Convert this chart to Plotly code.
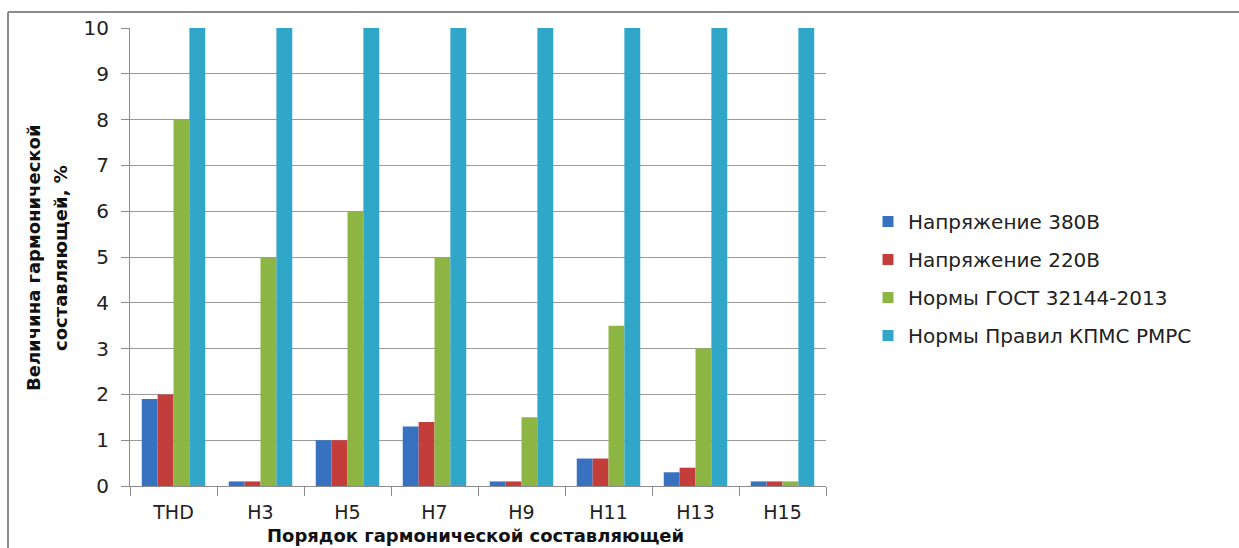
import plotly.graph_objects as go

categories = ["THD", "H3", "H5", "H7", "H9", "H11", "H13", "H15"]
v380 = [1.9, 0.1, 1.0, 1.3, 0.1, 0.6, 0.3, 0.1]
v220 = [2.0, 0.1, 1.0, 1.4, 0.1, 0.6, 0.4, 0.1]
gost = [8, 5, 6, 5, 1.5, 3.5, 3, 0.1]
kpms = [10, 10, 10, 10, 10, 10, 10, 10]
series_names = ["Напряжение 380В", "Напряжение 220В", "Нормы ГОСТ 32144-2013", "Нормы Правил КПМС РМРС"]
colors = ["#3771BF", "#C33D3A", "#8DB544", "#30A6C8"]
y_title_lines = ["Величина гармонической", "составляющей, %"]
x_title = "Порядок гармонической составляющей"

FONT = "DejaVu Sans"
W, H = 1239, 548
L, R, T, B = 130, 826, 28, 486
pw, ph = R - L, B - T

def px(x):
    return (x - L) / pw

def py(y):
    return (B - y) / ph

fig = go.Figure()
for name, vals, c in zip(series_names, [v380, v220, gost, kpms], colors):
    fig.add_trace(go.Bar(x=categories, y=vals, name=name, marker=dict(color=c, line=dict(width=0)),
                         showlegend=False))
for i, (name, c) in enumerate(zip(series_names, colors)):
    fig.add_trace(go.Scatter(x=[None], y=[None], mode="markers", name=name,
                             marker=dict(symbol="square", size=11, color=c),
                             legendgroup=f"g{i}", showlegend=True))

fig.update_layout(
    width=W, height=H,
    margin=dict(l=L, r=W - R, t=T, b=H - B),
    paper_bgcolor="white", plot_bgcolor="white",
    barmode="group", bargap=0.27, bargroupgap=0,
    font=dict(family=FONT, size=20, color="#222222"),
    showlegend=True,
    legend=dict(x=px(868), y=py(202), xanchor="left", yanchor="top",
                font=dict(size=20, color="#222222"), traceorder="grouped",
                tracegroupgap=9, itemwidth=30, bgcolor="rgba(0,0,0,0)"),
    xaxis=dict(type="category", showline=True, linecolor="#8c8c8c", linewidth=1,
               ticks="outside", tickson="boundaries", ticklen=9, tickcolor="#8c8c8c",
               showgrid=False, ticklabelstandoff=9,
               tickfont=dict(size=19, color="#222222")),
    yaxis=dict(range=[0, 10], dtick=1, showline=True, linecolor="#8c8c8c", linewidth=1,
               ticks="outside", ticklen=8, tickcolor="#8c8c8c",
               showgrid=True, gridcolor="#9a9a9a", gridwidth=1, zeroline=False,
               ticklabelstandoff=8, tickfont=dict(size=20, color="#222222")),
)

fig.add_annotation(text=f"<b>{x_title}</b>", xref="paper", yref="paper",
                   x=px(475), y=py(548), xanchor="center", yanchor="bottom", showarrow=False,
                   font=dict(size=18, color="#111111", family=FONT))
for xpos, line in zip([33, 60], y_title_lines):
    fig.add_annotation(text=f"<b>{line}</b>", xref="paper", yref="paper",
                       x=px(xpos), y=py(258), xanchor="center", yanchor="middle", showarrow=False,
                       textangle=-90, font=dict(size=18, color="#111111", family=FONT))

# outer frame (top and left edges)
fig.add_shape(type="line", xref="paper", yref="paper", x0=px(8), x1=px(1239), y0=py(12), y1=py(12),
              line=dict(color="#8a8a8a", width=2))
fig.add_shape(type="line", xref="paper", yref="paper", x0=px(8), x1=px(8), y0=py(12), y1=py(548),
              line=dict(color="#8a8a8a", width=2))

fig.write_html("out.html")
